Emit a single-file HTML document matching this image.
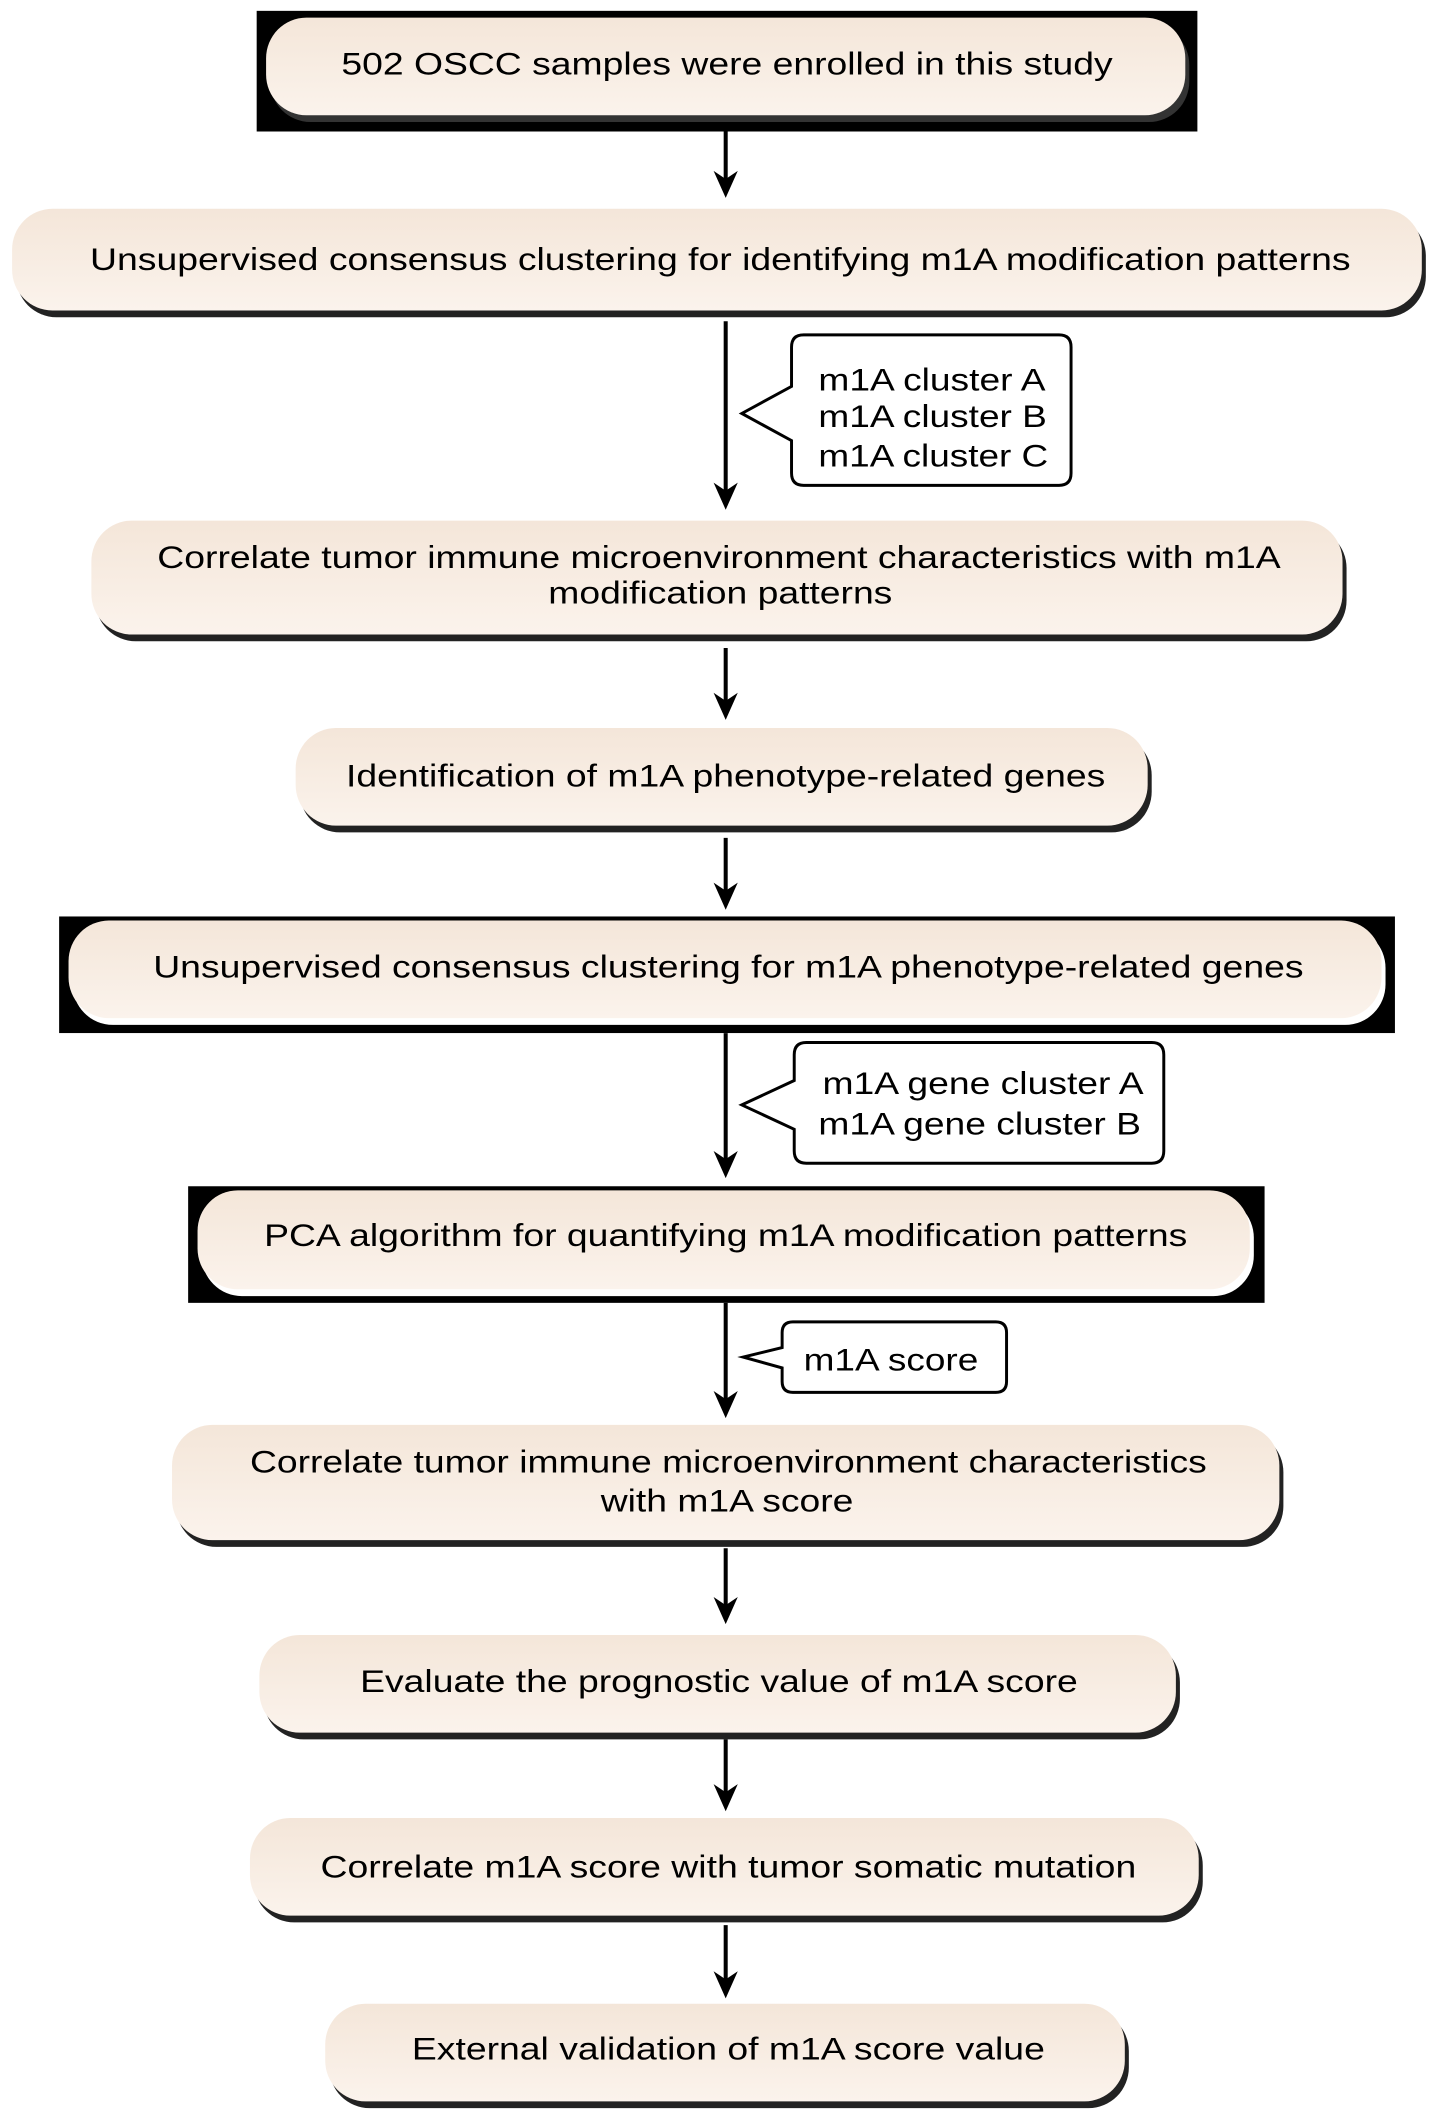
<!DOCTYPE html>
<html><head><meta charset="utf-8"><style>html,body{margin:0;padding:0;background:#fff}svg{display:block}</style></head>
<body>
<svg width="1446" height="2119" viewBox="0 0 1076 1563" preserveAspectRatio="none" xmlns="http://www.w3.org/2000/svg" font-family="Liberation Sans, Arial, sans-serif" font-size="23" fill="#000">
<defs>
<linearGradient id="g" x1="0" y1="0" x2="0" y2="1">
<stop offset="0" stop-color="#f4e6d9"/><stop offset="1" stop-color="#fbf3ec"/>
</linearGradient>
</defs>
<rect x="191" y="8" width="700" height="89" fill="#000"/>
<rect x="44" y="676" width="994" height="86" fill="#000"/>
<rect x="140" y="875" width="801" height="86" fill="#000"/>
<g>
<rect x="201" y="18" width="684" height="72" rx="30" fill="#333"/><rect x="198" y="13" width="684" height="72" rx="30" fill="url(#g)"/>
<rect x="12" y="159" width="1049" height="75" rx="30" fill="#222"/><rect x="9" y="154" width="1049" height="75" rx="30" fill="url(#g)"/>
<rect x="71" y="389" width="931" height="84" rx="30" fill="#222"/><rect x="68" y="384" width="931" height="84" rx="30" fill="url(#g)"/>
<rect x="223" y="542" width="634" height="72" rx="30" fill="#222"/><rect x="220" y="537" width="634" height="72" rx="30" fill="url(#g)"/>
<rect x="54" y="684" width="977" height="72" rx="30" fill="#fff"/><rect x="51" y="679" width="977" height="72" rx="30" fill="url(#g)"/>
<rect x="150" y="883" width="783" height="73" rx="30" fill="#fff"/><rect x="147" y="878" width="783" height="73" rx="30" fill="url(#g)"/>
<rect x="131" y="1056" width="824" height="85" rx="30" fill="#222"/><rect x="128" y="1051" width="824" height="85" rx="30" fill="url(#g)"/>
<rect x="196" y="1211" width="682" height="72" rx="30" fill="#222"/><rect x="193" y="1206" width="682" height="72" rx="30" fill="url(#g)"/>
<rect x="189" y="1346" width="706" height="72" rx="30" fill="#222"/><rect x="186" y="1341" width="706" height="72" rx="30" fill="url(#g)"/>
<rect x="245" y="1483" width="595" height="72" rx="30" fill="#222"/><rect x="242" y="1478" width="595" height="72" rx="30" fill="url(#g)"/>
</g>
<g stroke="#000" stroke-width="3">
<line x1="540" y1="97" x2="540" y2="135"/>
<line x1="540" y1="237" x2="540" y2="365"/>
<line x1="540" y1="478" x2="540" y2="520"/>
<line x1="540" y1="618" x2="540" y2="660"/>
<line x1="540" y1="762" x2="540" y2="858"/>
<line x1="540" y1="961" x2="540" y2="1035"/>
<line x1="540" y1="1142" x2="540" y2="1187"/>
<line x1="540" y1="1283" x2="540" y2="1325"/>
<line x1="540" y1="1420" x2="540" y2="1463"/>
</g>
<g fill="#000">
<path d="M531,126 L540,146 L549,126 L540,132 Z"/>
<path d="M531,356 L540,376 L549,356 L540,362 Z"/>
<path d="M531,511 L540,531 L549,511 L540,517 Z"/>
<path d="M531,651 L540,671 L549,651 L540,657 Z"/>
<path d="M531,849 L540,869 L549,849 L540,855 Z"/>
<path d="M531,1026 L540,1046 L549,1026 L540,1032 Z"/>
<path d="M531,1178 L540,1198 L549,1178 L540,1184 Z"/>
<path d="M531,1316 L540,1336 L549,1316 L540,1322 Z"/>
<path d="M531,1454 L540,1474 L549,1454 L540,1460 Z"/>
</g>
<g fill="#fff" stroke="#000" stroke-width="2.2">
<path d="M598,247 H788 Q797,247 797,256 V349 Q797,358 788,358 H598 Q589,358 589,349 V325 L552,305 L589,285 V256 Q589,247 598,247 Z"/>
<path d="M600,769 H857 Q866,769 866,778 V849 Q866,858 857,858 H600 Q591,858 591,849 V833 L552,815 L591,797 V778 Q591,769 600,769 Z"/>
<path d="M590,975 H741 Q749,975 749,983 V1019 Q749,1027 741,1027 H590 Q582,1027 582,1019 V1009 L553,1001 L582,994 V983 Q582,975 590,975 Z"/>
</g>
<g text-anchor="middle">
<text x="541" y="55" textLength="574" lengthAdjust="spacingAndGlyphs">502 OSCC samples were enrolled in this study</text>
<text x="536" y="199" textLength="938" lengthAdjust="spacingAndGlyphs">Unsupervised consensus clustering for identifying m1A modification patterns</text>
<text x="535" y="419" textLength="836" lengthAdjust="spacingAndGlyphs">Correlate tumor immune microenvironment characteristics with m1A</text>
<text x="536" y="445" textLength="256" lengthAdjust="spacingAndGlyphs">modification patterns</text>
<text x="540" y="580" textLength="565" lengthAdjust="spacingAndGlyphs">Identification of m1A phenotype-related genes</text>
<text x="542" y="721" textLength="856" lengthAdjust="spacingAndGlyphs">Unsupervised consensus clustering for m1A phenotype-related genes</text>
<text x="540" y="919" textLength="687" lengthAdjust="spacingAndGlyphs">PCA algorithm for quantifying m1A modification patterns</text>
<text x="542" y="1086" textLength="712" lengthAdjust="spacingAndGlyphs">Correlate tumor immune microenvironment characteristics</text>
<text x="541" y="1115" textLength="188" lengthAdjust="spacingAndGlyphs">with m1A score</text>
<text x="535" y="1248" textLength="534" lengthAdjust="spacingAndGlyphs">Evaluate the prognostic value of m1A score</text>
<text x="542" y="1385" textLength="607" lengthAdjust="spacingAndGlyphs">Correlate m1A score with tumor somatic mutation</text>
<text x="542" y="1519" textLength="471" lengthAdjust="spacingAndGlyphs">External validation of m1A score value</text>
</g>
<g>
<text x="609" y="288" textLength="169" lengthAdjust="spacingAndGlyphs">m1A cluster A</text>
<text x="609" y="315" textLength="170" lengthAdjust="spacingAndGlyphs">m1A cluster B</text>
<text x="609" y="344" textLength="171" lengthAdjust="spacingAndGlyphs">m1A cluster C</text>
<text x="612" y="807" textLength="239" lengthAdjust="spacingAndGlyphs">m1A gene cluster A</text>
<text x="609" y="837" textLength="240" lengthAdjust="spacingAndGlyphs">m1A gene cluster B</text>
<text x="598" y="1011" textLength="130" lengthAdjust="spacingAndGlyphs">m1A score</text>
</g>
</svg>
</body></html>
